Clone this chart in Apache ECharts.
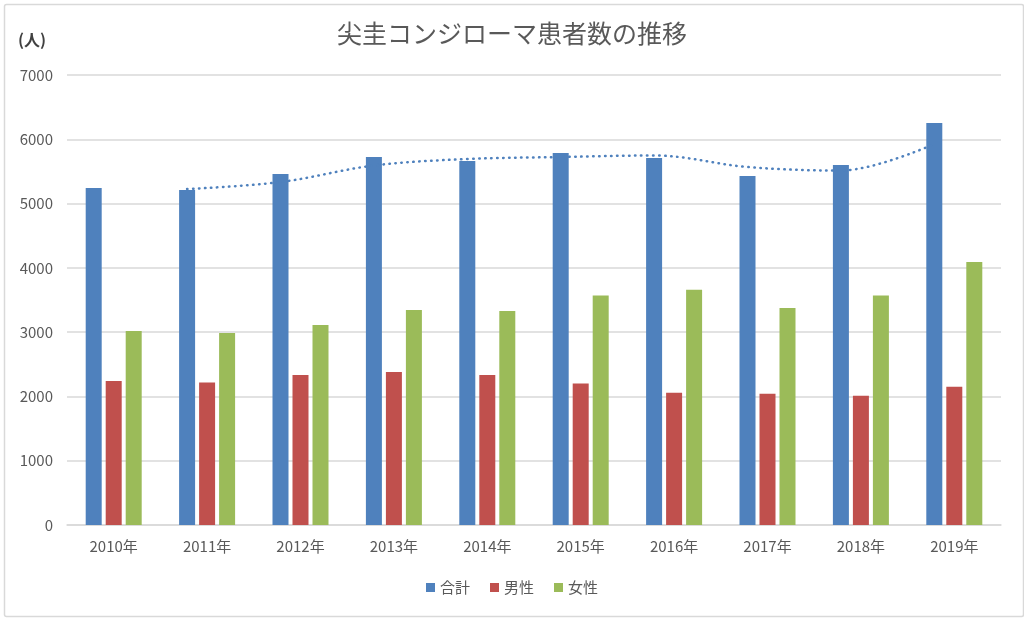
<!DOCTYPE html>
<html>
<head>
<meta charset="utf-8">
<script src="https://cdn.jsdelivr.net/npm/echarts@6/dist/echarts.min.js"></script>
<style>
  html, body { margin: 0; padding: 0; background: #fff; }
  #chart { width: 1024px; height: 618px; }
</style>
</head>
<body>
<div id="chart"></div>
<script>
const years = ["2010年", "2011年", "2012年", "2013年", "2014年", "2015年", "2016年", "2017年", "2018年", "2019年"];
const total = [5242, 5211, 5460, 5724, 5662, 5787, 5709, 5429, 5600, 6253];
const male = [2240, 2215, 2333, 2380, 2333, 2200, 2056, 2040, 2010, 2150];
const female = [3017, 2987, 3111, 3344, 3329, 3570, 3660, 3375, 3570, 4091];
// 2区間移動平均（合計）— 図から読み取り
const trend = [null, 5226, 5335, 5592, 5693, 5724, 5748, 5569, 5514, 5926];

const FONT = '"Noto Sans CJK JP", "Noto Sans", sans-serif';
const BAR_W = 16;
const GAP = 4;
const CAT_W = 934 / years.length;
const lineOffset = -(BAR_W + GAP) / CAT_W;

const chart = echarts.init(document.getElementById("chart"));

chart.setOption({
    backgroundColor: "#fff",
    animation: false,
    textStyle: { fontFamily: FONT },

    title: {
        text: "尖圭コンジローマ患者数の推移",
        left: "center",
        top: 16,
        textStyle: { fontSize: 25, fontWeight: "normal", color: "#595959", fontFamily: FONT }
    },

    legend: {
        bottom: 18,
        left: "center",
        itemWidth: 9,
        itemHeight: 9,
        itemGap: 20,
        icon: "rect",
        data: ["合計", "男性", "女性"],
        textStyle: { fontSize: 15, color: "#595959", fontFamily: FONT }
    },

    grid: { left: 67, right: 23, top: 75, bottom: 93 },

    xAxis: [
        {
            type: "category",
            data: years,
            axisLine: { lineStyle: { color: "#d9d9d9", width: 1.5 } },
            axisTick: { show: false },
            axisLabel: { color: "#595959", fontSize: 15, margin: 14, fontFamily: FONT }
        },
        {
            type: "value",
            min: -0.5,
            max: years.length - 0.5,
            show: false
        }
    ],

    yAxis: {
        type: "value",
        min: 0,
        max: 7000,
        interval: 1000,
        axisLine: { show: false },
        axisTick: { show: false },
        axisLabel: { color: "#595959", fontSize: 15, margin: 14, fontFamily: FONT, formatter: v => String(v) },
        splitLine: { lineStyle: { color: "#d9d9d9", width: 1.5 } }
    },

    series: [
        {
            name: "合計",
            type: "bar",
            data: total,
            barWidth: BAR_W,
            barGap: (GAP / BAR_W * 100) + "%",
            itemStyle: { color: "#4f81bd" }
        },
        {
            name: "男性",
            type: "bar",
            data: male,
            barWidth: BAR_W,
            itemStyle: { color: "#c0504d" }
        },
        {
            name: "女性",
            type: "bar",
            data: female,
            barWidth: BAR_W,
            itemStyle: { color: "#9bbb59" }
        },
        {
            name: "移動平均",
            type: "line",
            xAxisIndex: 1,
            data: trend.map((v, i) => v == null ? null : [i + lineOffset, v]).filter(d => d),
            smooth: 0.35,
            symbol: "none",
            lineStyle: { color: "#4f81bd", width: 2.5, type: [0.5, 5.5], cap: "round" },
            z: 5
        }
    ],

    graphic: [
        {
            type: "text",
            left: 18,
            top: 32,
            style: { text: "(人)", fill: "#404040", font: "bold 16px " + FONT }
        },
        {
            type: "rect",
            left: 2,
            top: 2,
            shape: { width: 1019, height: 612, r: 2 },
            style: { fill: "none", stroke: "#d9d9d9", lineWidth: 1.5 },
            silent: true
        }
    ]
});
</script>
</body>
</html>
